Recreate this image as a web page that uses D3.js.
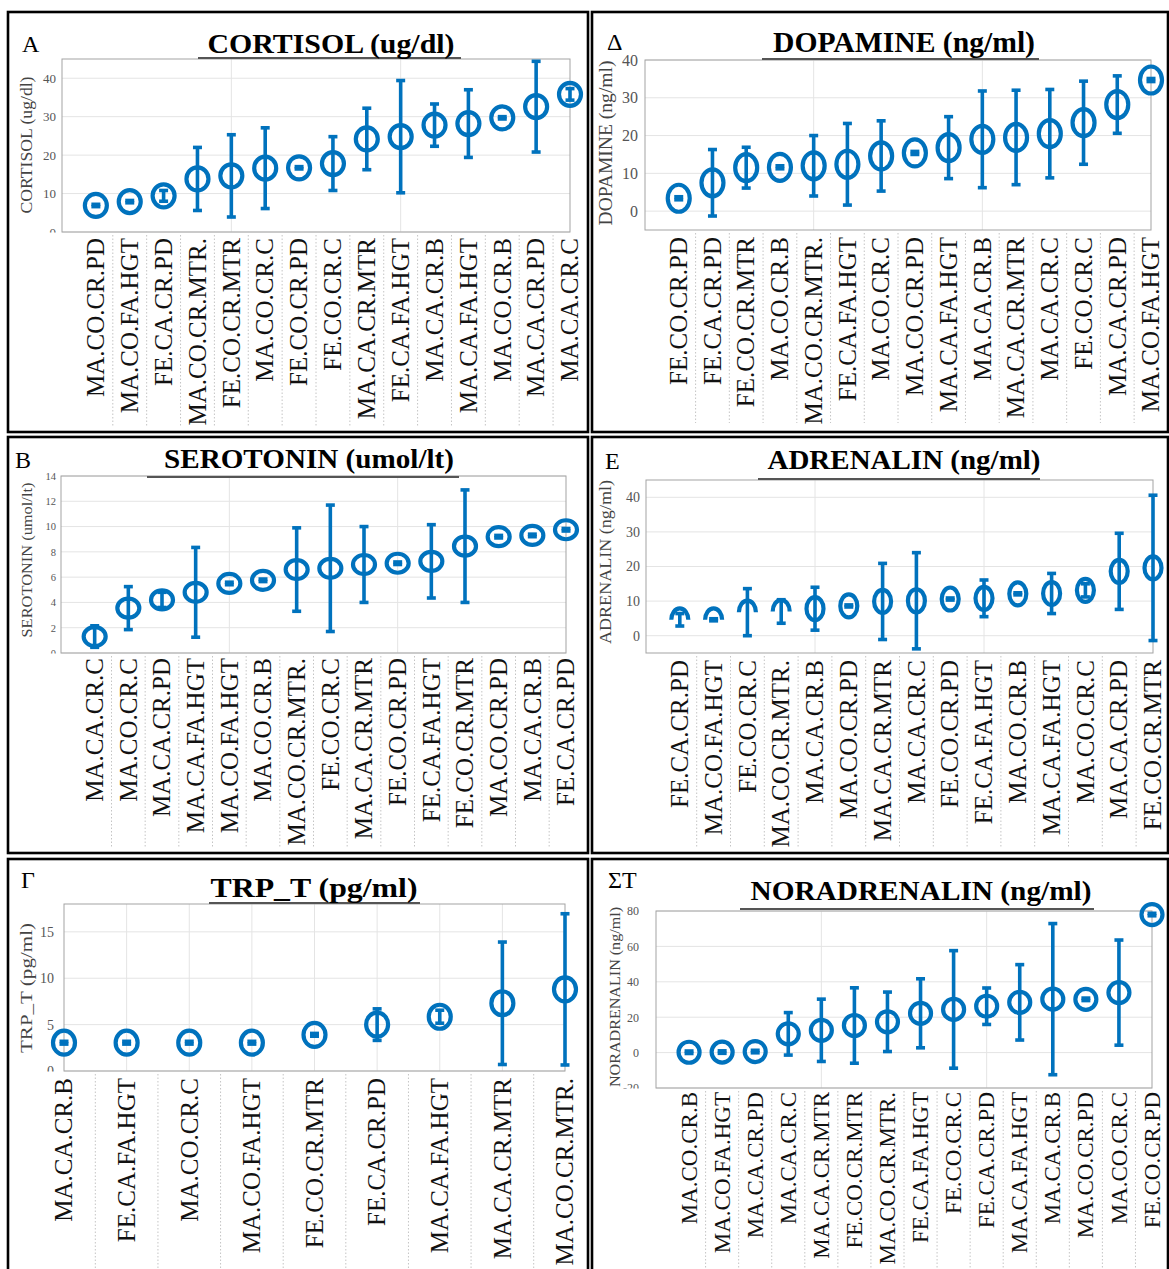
<!DOCTYPE html>
<html>
<head>
<meta charset="utf-8">
<script src="https://cdn.jsdelivr.net/npm/d3@7"></script>
<style>
  body { margin: 0; background: #fff; }
  svg { display: block; font-family: "Liberation Serif", "Times New Roman", serif; }
</style>
</head>
<body>
<script>
// ---- Cortisol (ug/dl) ----
const cortisolLabels = ["MA.CO.CR.PD", "MA.CO.FA.HGT", "FE.CA.CR.PD", "MA.CO.CR.MTR.", "FE.CO.CR.MTR",
  "MA.CO.CR.C", "FE.CO.CR.PD", "FE.CO.CR.C", "MA.CA.CR.MTR", "FE.CA.FA.HGT", "MA.CA.CR.B",
  "MA.CA.FA.HGT", "MA.CO.CR.B", "MA.CA.CR.PD", "MA.CA.CR.C"];
const cortisolMean = [6.9, 7.9, 9.4, 13.8, 14.6, 16.6, 16.7, 17.8, 24.2, 24.8, 27.8, 28.2, 29.7, 32.6, 35.8];
const cortisolErr = [0.3, 0.3, 1.4, 8.2, 10.7, 10.5, 0.3, 7.0, 8.0, 14.6, 5.5, 8.8, 0.3, 11.8, 1.5];
const cortisolTicks = [0, 10, 20, 30, 40];

// ---- Dopamine (ng/ml) ----
const dopamineLabels = ["FE.CO.CR.PD", "FE.CA.CR.PD", "FE.CO.CR.MTR", "MA.CO.CR.B", "MA.CO.CR.MTR.",
  "FE.CA.FA.HGT", "MA.CO.CR.C", "MA.CO.CR.PD", "MA.CA.FA.HGT", "MA.CA.CR.B", "MA.CA.CR.MTR",
  "MA.CA.CR.C", "FE.CO.CR.C", "MA.CA.CR.PD", "MA.CO.FA.HGT"];
const dopamineMean = [3.4, 7.5, 11.5, 11.6, 12.0, 12.4, 14.6, 15.4, 16.8, 19.0, 19.5, 20.5, 23.4, 28.2, 34.7];
const dopamineErr = [0.4, 8.8, 5.4, 0.4, 8.0, 10.8, 9.3, 0.4, 8.2, 12.8, 12.5, 11.7, 11.0, 7.6, 0.4];
const dopamineTicks = [0, 10, 20, 30, 40];

// ---- Serotonin (umol/lt) ----
const serotoninLabels = ["MA.CA.CR.C", "MA.CO.CR.C", "MA.CA.CR.PD", "MA.CA.FA.HGT", "MA.CO.FA.HGT",
  "MA.CO.CR.B", "MA.CO.CR.MTR.", "FE.CO.CR.C", "MA.CA.CR.MTR", "FE.CO.CR.PD", "FE.CA.FA.HGT",
  "FE.CO.CR.MTR", "MA.CO.CR.PD", "MA.CA.CR.B", "FE.CA.CR.PD"];
const serotoninMean = [1.3, 3.55, 4.2, 4.8, 5.5, 5.75, 6.6, 6.7, 7.0, 7.1, 7.25, 8.45, 9.2, 9.3, 9.75];
const serotoninErr = [0.85, 1.7, 0.6, 3.55, 0.1, 0.1, 3.3, 5.0, 3.0, 0.1, 2.9, 4.45, 0.1, 0.1, 0.1];
const serotoninTicks = [0, 2, 4, 6, 8, 10, 12, 14];

// ---- Adrenalin (ng/ml) ----
const adrenalinLabels = ["FE.CA.CR.PD", "MA.CO.FA.HGT", "FE.CO.CR.C", "MA.CO.CR.MTR.", "MA.CA.CR.B",
  "MA.CO.CR.PD", "MA.CA.CR.MTR", "MA.CA.CR.C", "FE.CO.CR.PD", "FE.CA.FA.HGT", "MA.CO.CR.B",
  "MA.CA.FA.HGT", "MA.CO.CR.C", "MA.CA.CR.PD", "FE.CO.CR.MTR"];
const adrenalinMean = [4.6, 4.6, 6.8, 7.0, 7.8, 8.6, 9.9, 10.1, 10.6, 10.8, 12.1, 12.2, 13.1, 18.6, 19.6];
const adrenalinErr = [1.8, 0.3, 6.8, 3.4, 6.2, 0.3, 11.0, 13.9, 0.3, 5.3, 0.3, 5.8, 1.9, 11.0, 21.0];
const adrenalinTicks = [0, 10, 20, 30, 40];

// ---- TRP_T (pg/ml) ----
const trpLabels = ["MA.CA.CR.B", "FE.CA.FA.HGT", "MA.CO.CR.C", "MA.CO.FA.HGT", "FE.CO.CR.MTR",
  "FE.CA.CR.PD", "MA.CA.FA.HGT", "MA.CA.CR.MTR", "MA.CO.CR.MTR."];
const trpMean = [3.05, 3.05, 3.05, 3.05, 3.9, 5.0, 5.85, 7.3, 8.8];
const trpErr = [0.15, 0.15, 0.15, 0.15, 0.15, 1.7, 0.7, 6.6, 8.15];
const trpTicks = [0, 5, 10, 15];

// ---- Noradrenalin (ng/ml) ----
const noradrenalinLabels = ["MA.CO.CR.B", "MA.CO.FA.HGT", "MA.CA.CR.PD", "MA.CA.CR.C", "MA.CA.CR.MTR",
  "FE.CO.CR.MTR", "MA.CO.CR.MTR.", "FE.CA.FA.HGT", "FE.CO.CR.C", "FE.CA.CR.PD", "MA.CA.FA.HGT",
  "MA.CA.CR.B", "MA.CO.CR.PD", "MA.CO.CR.C", "FE.CO.CR.PD"];
const noradrenalinMean = [0.2, 0.3, 0.6, 10.6, 12.6, 15.3, 17.4, 22.2, 24.4, 26.2, 28.4, 30.2, 30.1, 33.9, 78.0];
const noradrenalinErr = [0.7, 0.7, 0.7, 12.0, 17.6, 21.3, 16.8, 19.5, 33.2, 10.3, 21.3, 42.7, 0.7, 29.7, 0.7];
const noradrenalinTicks = [-20, 0, 20, 40, 60, 80];

const BLUE = "#0072BD";
const FONT = '"Liberation Serif", "Times New Roman", serif';

const svg = d3.select("body").append("svg")
  .attr("width", 1169).attr("height", 1269);

const panels = [
  { id: "a", labels: cortisolLabels, mean: cortisolMean, err: cortisolErr, yTicks: cortisolTicks,
    border: [8, 12, 588, 432], plot: [62, 570, 59, 232], xDomain: [0, 15], xStart: 1,
    yDomain: [0, 45], xGrid: [5, 10], tickSize: 13, tickPad: 6,
    title: "CORTISOL (ug/dl)", titleX: 331, titleY: 53, titleW: 247, titleSize: 27, underline: [198, 461, 58],
    letter: "A", letterX: 22, letterY: 52,
    ylabel: "CORTISOL (ug/dl)", ylabelX: 27, ylabelY: 145, ylabelSize: 16, ylabelLen: 137,
    rx: 11, ry: 11.5, labelTop: 238, labelSize: 25, sepBottom: 426, half: 0 },
  { id: "d", labels: dopamineLabels, mean: dopamineMean, err: dopamineErr, yTicks: dopamineTicks,
    border: [592, 12, 1168, 432], plot: [645, 1151, 60, 230], xDomain: [0, 15], xStart: 1,
    yDomain: [-5, 40], xGrid: [5, 10], tickSize: 16, tickPad: 7,
    title: "DOPAMINE (ng/ml)", titleX: 904, titleY: 52, titleW: 262, titleSize: 29, underline: [762, 1039, 59],
    letter: "Δ", letterX: 607, letterY: 50,
    ylabel: "DOPAMINE (ng/ml)", ylabelX: 606, ylabelY: 143, ylabelSize: 19, ylabelLen: 165,
    rx: 11, ry: 13.5, labelTop: 237, labelSize: 25, sepBottom: 423, half: 0 },
  { id: "b", labels: serotoninLabels, mean: serotoninMean, err: serotoninErr, yTicks: serotoninTicks,
    border: [8, 437, 588, 853], plot: [61, 566, 476, 653], xDomain: [0, 15], xStart: 1,
    yDomain: [0, 14], xGrid: [5, 10], tickSize: 10.5, tickPad: 5,
    title: "SEROTONIN (umol/lt)", titleX: 309, titleY: 468, titleW: 290, titleSize: 28, underline: [147, 459, 477],
    letter: "B", letterX: 15, letterY: 468,
    ylabel: "SEROTONIN (umol/lt)", ylabelX: 27, ylabelY: 560, ylabelSize: 15, ylabelLen: 155,
    rx: 11, ry: 9.5, labelTop: 658, labelSize: 25, sepBottom: 847, half: 0 },
  { id: "e", labels: adrenalinLabels, mean: adrenalinMean, err: adrenalinErr, yTicks: adrenalinTicks,
    border: [592, 437, 1168, 853], plot: [646, 1153, 480, 653], xDomain: [0, 15], xStart: 1,
    yDomain: [-5, 45], xGrid: [5, 10], tickSize: 14, tickPad: 6,
    title: "ADRENALIN (ng/ml)", titleX: 904, titleY: 469, titleW: 273, titleSize: 28, underline: [758, 1040, 479],
    letter: "E", letterX: 605, letterY: 469,
    ylabel: "ADRENALIN (ng/ml)", ylabelX: 605, ylabelY: 562, ylabelSize: 17, ylabelLen: 164,
    rx: 8.5, ry: 11.5, labelTop: 660, labelSize: 25, sepBottom: 847, half: 4 },
  { id: "g", labels: trpLabels, mean: trpMean, err: trpErr, yTicks: trpTicks,
    border: [8, 859, 588, 1275], plot: [64, 565, 904, 1071], xDomain: [1, 9], xStart: 1,
    yDomain: [0, 18], xGrid: [2, 3, 4, 5, 6, 7, 8], tickSize: 14, tickPad: 10,
    title: "TRP_T (pg/ml)", titleX: 314, titleY: 897, titleW: 207, titleSize: 28, underline: [209, 420, 903],
    letter: "Γ", letterX: 21, letterY: 888,
    ylabel: "TRP_T (pg/ml)", ylabelX: 26, ylabelY: 988, ylabelSize: 17, ylabelLen: 130,
    rx: 11, ry: 12, labelTop: 1078, labelSize: 25, sepBottom: 1269, half: 0 },
  { id: "s", labels: noradrenalinLabels, mean: noradrenalinMean, err: noradrenalinErr, yTicks: noradrenalinTicks,
    border: [592, 859, 1168, 1275], plot: [656, 1152, 911, 1088], xDomain: [0, 15], xStart: 1,
    yDomain: [-20, 80], xGrid: [5, 10], tickSize: 12, tickPad: 17,
    title: "NORADRENALIN (ng/ml)", titleX: 921, titleY: 900, titleW: 341, titleSize: 28, underline: [740, 1094, 909],
    letter: "ΣT", letterX: 608, letterY: 888,
    ylabel: "NORADRENALIN (ng/ml)", ylabelX: 615, ylabelY: 997, ylabelSize: 15, ylabelLen: 180,
    rx: 10.5, ry: 10.5, labelTop: 1092, labelSize: 23, sepBottom: 1269, half: 0 }
];

const defs = svg.append("defs");

function drawPanel(p) {
  const g = svg.append("g").attr("class", "panel-" + p.id);
  const [L, R, T, B] = p.plot;
  const x = d3.scaleLinear().domain(p.xDomain).range([L, R]);
  const y = d3.scaleLinear().domain(p.yDomain).range([B, T]);

  // frame around the panel
  g.append("rect")
    .attr("x", p.border[0]).attr("y", p.border[1])
    .attr("width", p.border[2] - p.border[0]).attr("height", p.border[3] - p.border[1])
    .attr("fill", "none").attr("stroke", "#000").attr("stroke-width", 2.6);

  // grid
  g.append("g").selectAll("line").data(p.yTicks).join("line")
    .attr("x1", L).attr("x2", R)
    .attr("y1", d => y(d)).attr("y2", d => y(d))
    .attr("stroke", "#e4e4e4").attr("stroke-width", 1);
  g.append("g").selectAll("line").data(p.xGrid).join("line")
    .attr("x1", d => x(d)).attr("x2", d => x(d))
    .attr("y1", T).attr("y2", B)
    .attr("stroke", "#e4e4e4").attr("stroke-width", 1);

  // axes box
  g.append("rect").attr("x", L).attr("y", T).attr("width", R - L).attr("height", B - T)
    .attr("fill", "none").attr("stroke", "#a3a3a3").attr("stroke-width", 1);

  // y axis tick labels
  const ax = g.append("g").attr("transform", `translate(${L},0)`)
    .call(d3.axisLeft(y).tickValues(p.yTicks).tickSize(0).tickPadding(p.tickPad).tickFormat(d => String(d)));
  ax.select(".domain").remove();
  ax.attr("font-family", FONT).attr("font-size", p.tickSize);
  ax.selectAll("text").attr("fill", "#555");

  // the category strip hides whatever spills below the axes on the left
  g.append("rect").attr("x", p.border[0] + 3).attr("y", B + 0.5)
    .attr("width", L - p.border[0] - 4).attr("height", 10).attr("fill", "#fff");

  // title with its rule
  g.append("line")
    .attr("x1", p.underline[0]).attr("x2", p.underline[1])
    .attr("y1", p.underline[2]).attr("y2", p.underline[2])
    .attr("stroke", "#555").attr("stroke-width", 2);
  g.append("text")
    .attr("x", p.titleX).attr("y", p.titleY)
    .attr("text-anchor", "middle")
    .attr("font-size", p.titleSize).attr("font-weight", "bold").attr("fill", "#000")
    .attr("textLength", p.titleW).attr("lengthAdjust", "spacingAndGlyphs")
    .text(p.title);

  // panel letter
  g.append("text").attr("x", p.letterX).attr("y", p.letterY)
    .attr("font-size", 24).attr("fill", "#000").text(p.letter);

  // y axis label
  g.append("text")
    .attr("transform", `translate(${p.ylabelX},${p.ylabelY}) rotate(-90)`)
    .attr("text-anchor", "middle").attr("dy", "0.33em")
    .attr("font-size", p.ylabelSize).attr("fill", "#444")
    .attr("textLength", p.ylabelLen).attr("lengthAdjust", "spacingAndGlyphs")
    .text(p.ylabel);

  const rows = p.labels.map((lab, i) => ({ lab, i, m: p.mean[i], e: p.err[i], xv: p.xStart + i }));

  // error bars
  const eb = g.append("g").attr("stroke", BLUE).attr("stroke-width", 3.6).attr("fill", "none");
  eb.selectAll("line.v").data(rows).join("line").attr("class", "v")
    .attr("x1", d => x(d.xv)).attr("x2", d => x(d.xv))
    .attr("y1", d => y(d.m - d.e)).attr("y2", d => y(d.m + d.e));
  ["lo", "hi"].forEach(side => {
    eb.selectAll("line." + side).data(rows).join("line").attr("class", side)
      .attr("x1", d => x(d.xv) - 4.5).attr("x2", d => x(d.xv) + 4.5)
      .attr("y1", d => y(side === "lo" ? d.m - d.e : d.m + d.e))
      .attr("y2", d => y(side === "lo" ? d.m - d.e : d.m + d.e));
  });

  // circle markers (some drawn only above their centre)
  rows.forEach(d => {
    if (d.i < p.half) {
      defs.append("clipPath").attr("id", `half-${p.id}-${d.i}`)
        .append("rect")
        .attr("x", x(d.xv) - 20).attr("y", y(d.m) - 30)
        .attr("width", 40).attr("height", 30);
    }
  });
  g.append("g").selectAll("ellipse").data(rows).join("ellipse")
    .attr("cx", d => x(d.xv)).attr("cy", d => y(d.m))
    .attr("rx", p.rx).attr("ry", p.ry)
    .attr("fill", "none").attr("stroke", BLUE).attr("stroke-width", 4.2)
    .attr("clip-path", d => d.i < p.half ? `url(#half-${p.id}-${d.i})` : null);

  // separators between category names
  g.append("g").selectAll("line").data(rows.slice(0, -1)).join("line")
    .attr("x1", d => x(d.xv + 0.5)).attr("x2", d => x(d.xv + 0.5))
    .attr("y1", B + 3).attr("y2", p.sepBottom)
    .attr("stroke", "#c4c4c4").attr("stroke-width", 1).attr("stroke-dasharray", "1.5,2");

  // category names, rotated
  g.append("g").selectAll("text").data(rows).join("text")
    .attr("transform", d => `translate(${x(d.xv)},${p.labelTop}) rotate(-90)`)
    .attr("text-anchor", "end").attr("dy", "0.33em")
    .attr("font-size", p.labelSize).attr("fill", "#111")
    .text(d => d.lab);
}

panels.forEach(drawPanel);
</script>
</body>
</html>
